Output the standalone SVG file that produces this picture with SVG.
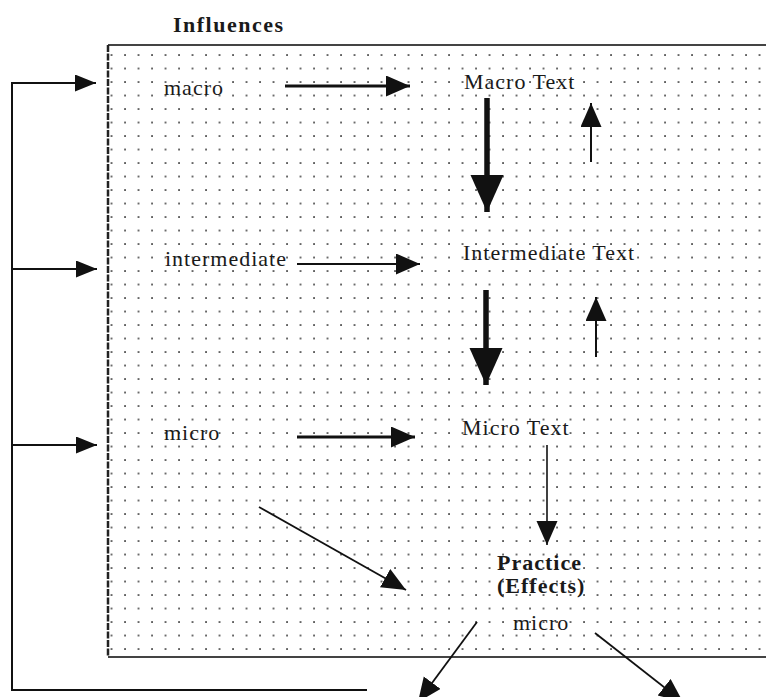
<svg xmlns="http://www.w3.org/2000/svg" width="766" height="697" viewBox="0 0 766 697">
<style>
text{font-family:"Liberation Serif","Times New Roman",serif;font-size:22px;fill:#1a1a1a;letter-spacing:1px}
.b{font-weight:bold}
.ln{stroke:#111;fill:none}
.fr{stroke:#444;stroke-width:2;fill:none}
</style>
<defs>
<pattern id="dots" patternUnits="userSpaceOnUse" x="118.25" y="48.25" width="13.5" height="13.5">
<rect x="5.9" y="5.9" width="1.8" height="1.8" fill="#555"/>
</pattern>
<marker id="hs" markerUnits="userSpaceOnUse" markerWidth="22" markerHeight="18" refX="21" refY="8.5" orient="auto"><path d="M0,0 L21,8.5 L0,17 z" fill="#111"/></marker>
<marker id="hm" markerUnits="userSpaceOnUse" markerWidth="26" markerHeight="22" refX="24" refY="10.5" orient="auto"><path d="M0,0 L24,10.5 L0,21 z" fill="#111"/></marker>
<marker id="hb" markerUnits="userSpaceOnUse" markerWidth="38" markerHeight="34" refX="37" refY="16.5" orient="auto"><path d="M0,0 L37,16.5 L0,33 z" fill="#111"/></marker>
</defs>
<g id="frame">
<rect x="110" y="47" width="656" height="608" fill="url(#dots)"/>
<line class="fr" x1="108" y1="45" x2="766" y2="45"/>
<line class="fr" x1="108" y1="657" x2="766" y2="657"/>
<line x1="108" y1="45" x2="108" y2="657" stroke="#222" stroke-width="2.5" stroke-dasharray="7,1.5"/>
</g>
<g id="title"><text class="b" x="173" y="32" style="letter-spacing:1.5px">Influences</text></g>
<g id="macro"><text x="164" y="95">macro</text></g>
<g id="macro-text"><text x="464" y="89">Macro Text</text></g>
<g id="intermediate"><text x="165" y="266">intermediate</text></g>
<g id="intermediate-text"><text x="463" y="260">Intermediate Text</text></g>
<g id="micro"><text x="164" y="440">micro</text></g>
<g id="micro-text"><text x="462" y="435">Micro Text</text></g>
<g id="practice"><text class="b" x="497" y="570">Practice</text><text class="b" x="497" y="593">(Effects)</text></g>
<g id="micro-effects"><text x="513" y="630">micro</text></g>
<g id="connectors">
<polyline class="ln" stroke-width="2" points="367,690 12,690 12,83 96,83" marker-end="url(#hs)"/>
<line class="ln" stroke-width="2" x1="12" y1="269" x2="97" y2="269" marker-end="url(#hs)"/>
<line class="ln" stroke-width="2" x1="12" y1="445" x2="97" y2="445" marker-end="url(#hs)"/>
<line class="ln" stroke-width="3" x1="285" y1="86" x2="410" y2="86" marker-end="url(#hm)"/>
<line class="ln" stroke-width="2" x1="297" y1="264" x2="420" y2="264" marker-end="url(#hm)"/>
<line class="ln" stroke-width="3.2" x1="297" y1="437" x2="415" y2="437" marker-end="url(#hm)"/>
<line class="ln" stroke-width="5.5" x1="487" y1="98" x2="487" y2="212" marker-end="url(#hb)"/>
<line class="ln" stroke-width="5.5" x1="486" y1="290" x2="486" y2="385" marker-end="url(#hb)"/>
<line class="ln" stroke-width="2" x1="591" y1="162" x2="591" y2="103" marker-end="url(#hm)"/>
<line class="ln" stroke-width="2" x1="596" y1="357" x2="596" y2="297" marker-end="url(#hm)"/>
<line class="ln" stroke-width="1.6" x1="547" y1="445" x2="547" y2="545" marker-end="url(#hm)"/>
<line class="ln" stroke-width="1.8" x1="259" y1="507" x2="406" y2="590" marker-end="url(#hm)"/>
<line class="ln" stroke-width="1.8" x1="477" y1="622" x2="418" y2="702" marker-end="url(#hm)"/>
<line class="ln" stroke-width="1.8" x1="595" y1="633" x2="683" y2="702" marker-end="url(#hm)"/>
</g>
</svg>
